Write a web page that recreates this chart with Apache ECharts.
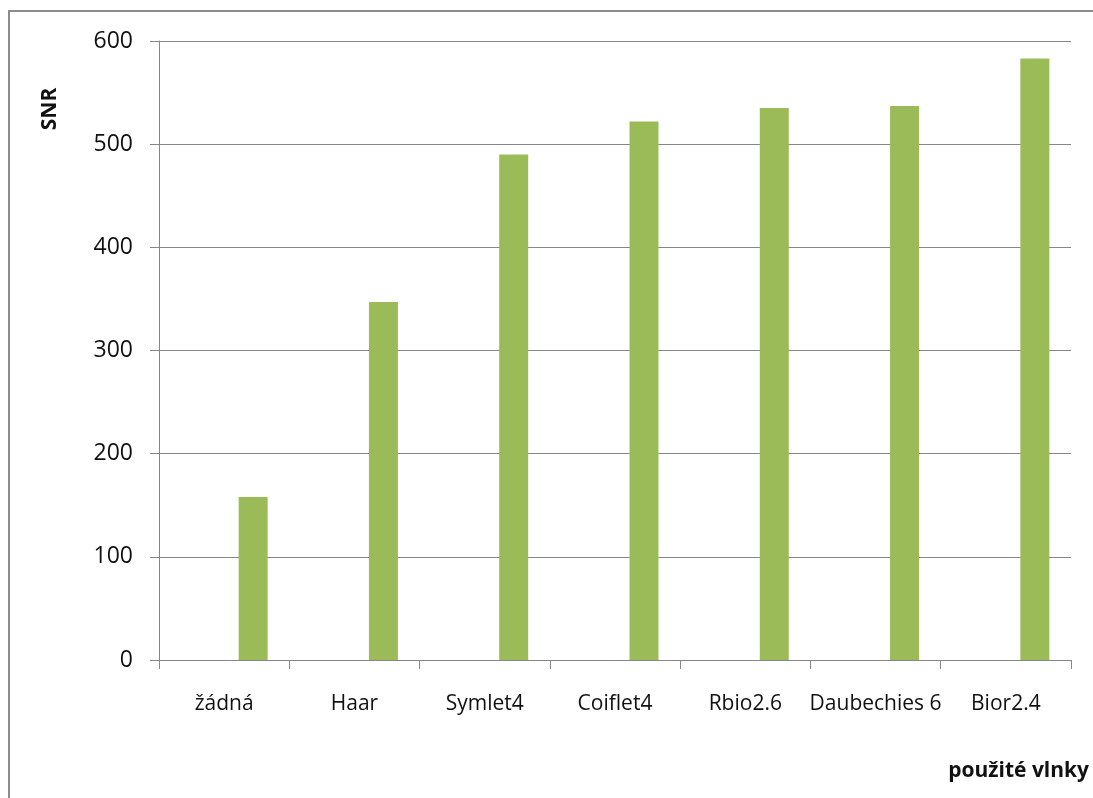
<!DOCTYPE html>
<html>
<head>
<meta charset="utf-8">
<script src="https://cdn.jsdelivr.net/npm/echarts@6/dist/echarts.min.js"></script>
<style>html,body{margin:0;padding:0;background:#fff}#c{width:1093px;height:798px}</style>
</head>
<body>
<div id="c"></div>
<script>
const categories = ['žádná', 'Haar', 'Symlet4', 'Coiflet4', 'Rbio2.6', 'Daubechies 6', 'Bior2.4'];
const snrValues = [158, 347, 490, 522, 535, 537, 583];
const emptySeries = [null, null, null, null, null, null, null];
const yTicks = { min: 0, max: 600, interval: 100 };
const yName = 'SNR';
const xName = 'použité vlnky';

const FONT = '"Open Sans", "DejaVu Sans", sans-serif';
const chart = echarts.init(document.getElementById('c'), null, { renderer: 'canvas' });
chart.setOption({
  animation: false,
  backgroundColor: '#fff',
  grid: { left: 159, right: 22, top: 41, bottom: 138, containLabel: false },
  xAxis: {
    type: 'category',
    data: categories,
    boundaryGap: true,
    axisLine: { show: true, lineStyle: { color: '#868686', width: 1 } },
    axisTick: { show: true, length: 9, alignWithLabel: false, lineStyle: { color: '#868686' } },
    axisLabel: { color: '#111', fontFamily: FONT, fontSize: 21, margin: 34, interval: 0 },
    splitLine: { show: false }
  },
  yAxis: {
    type: 'value',
    min: yTicks.min, max: yTicks.max, interval: yTicks.interval,
    axisLine: { show: true, lineStyle: { color: '#868686', width: 1 } },
    axisTick: { show: true, length: 9, lineStyle: { color: '#868686' } },
    axisLabel: { color: '#111', fontFamily: FONT, fontSize: 23, margin: 26 },
    splitLine: { show: true, lineStyle: { color: '#868686', width: 1 } }
  },
  series: [
    { type: 'bar', data: emptySeries, barWidth: 29, barGap: '100%', silent: true },
    { type: 'bar', data: snrValues, barWidth: 29, barGap: '100%', itemStyle: { color: '#9BBB59' } }
  ],
  graphic: [
    { type: 'line', shape: { x1: 9, y1: 11, x2: 9, y2: 798 }, style: { stroke: '#8c8c8c', lineWidth: 2 } },
    { type: 'line', shape: { x1: 8, y1: 11, x2: 1093, y2: 11 }, style: { stroke: '#8c8c8c', lineWidth: 2 } },
    { type: 'text', x: 50, y: 109, rotation: Math.PI / 2,
      style: { text: yName, font: 'bold 21px ' + FONT, fill: '#111', textAlign: 'center', textVerticalAlign: 'middle' } },
    { type: 'text', x: 1089, y: 771,
      style: { text: xName, font: 'bold 21px ' + FONT, fill: '#111', textAlign: 'right', textVerticalAlign: 'middle' } }
  ]
});
</script>
</body>
</html>
